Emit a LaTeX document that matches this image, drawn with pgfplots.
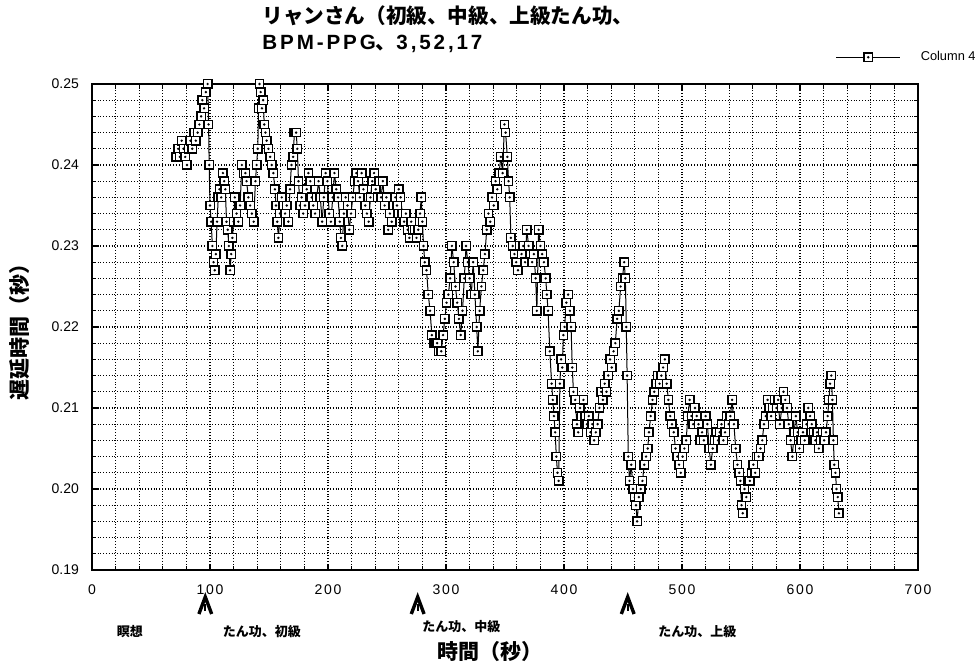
\documentclass[border=0pt]{standalone}
\usepackage{pgfplots}
\pgfplotsset{compat=1.18}
\usepackage{fontspec}
\setmainfont{Liberation Sans}
\newfontfamily\jp{Noto Sans CJK JP}
\newfontfamily\tickfont[LetterSpace=12]{Liberation Sans}
\newfontfamily\titlelat[LetterSpace=14]{Liberation Sans}
\pgfdeclareplotmark{sqdot}{%
  \pgfpathrectangle{\pgfpoint{-\pgfplotmarksize}{-\pgfplotmarksize}}{\pgfpoint{2\pgfplotmarksize}{2\pgfplotmarksize}}%
  \pgfusepathqfillstroke
  \begin{pgfscope}%
  \pgfsetfillcolor{black}%
  \pgfpathcircle{\pgfpointorigin}{0.32\pgfplotmarksize}%
  \pgfusepathqfill
  \end{pgfscope}%
}
\tikzset{phasearrow/.style={line width=1.7pt, line join=miter, line cap=butt}}
\begin{document}
\begin{tikzpicture}
\path[use as bounding box] (-46pt,-51pt) rectangle (444pt,285pt);
\begin{axis}[
  at={(0,0)}, anchor=south west,
  scale only axis, width=413pt, height=243pt,
  xmin=0, xmax=700, ymin=0.19, ymax=0.25,
  xtick={0,100,...,700}, minor x tick num=4,
  ytick={0.19,0.2,0.21,0.22,0.23,0.24,0.25}, minor y tick num=4,
  grid=both,
  major grid style={densely dotted, black, line width=0.6pt},
  minor grid style={densely dotted, black, line width=0.6pt},
  tick style={black, line width=0.6pt},
  major tick length=3pt, minor tick length=2pt,
  axis line style={line width=1pt},
  /pgf/number format/assume math mode=true,
  yticklabel style={/pgf/number format/fixed, /pgf/number format/fixed zerofill, /pgf/number format/precision=2, font=\fontsize{7}{8}\selectfont, xshift=-3pt},
  xticklabel style={font=\tickfont\fontsize{7}{8}\selectfont, yshift=-4pt},
  xlabel={\jp\bfseries 時間（秒）},
  ylabel={\jp\bfseries 遅延時間（秒）},
  xlabel style={font=\fontsize{10.5}{11}\selectfont, at={(axis description cs:0.482,0)}, anchor=center, yshift=-41pt},
  ylabel style={font=\fontsize{10.5}{11}\selectfont, at={(axis description cs:0,0.5)}, anchor=center, yshift=36pt},
  clip=false,
  legend style={at={(axis description cs:0.9,1.055)}, anchor=west, draw=none, fill=none, inner sep=0pt, font=\fontsize{6.4}{7}\selectfont, /tikz/every odd column/.append style={column sep=8pt}},
  legend image code/.code={\draw[#1, mark repeat=2, mark phase=2] plot coordinates {(0pt,0pt) (16pt,0pt) (32pt,0pt)};},
]
\addplot[black, line width=0.5pt, mark=sqdot, mark size=2.1pt, mark options={fill=white, line width=0.7pt}] coordinates {
(71.5,0.241)(73,0.242)(74.5,0.241)(76,0.243)(77.5,0.242)(79,0.241)(80.5,0.240)(82,0.242)(83.5,0.243)(85,0.242)(86.5,0.244)(88,0.243)(89.5,0.244)(91,0.245)(92.5,0.246)(93.5,0.248)(95,0.247)(96.5,0.249)(98,0.250)(98.8,0.245)(99.3,0.240)
(100,0.235)(101,0.233)(102,0.230)(103,0.228)(104,0.227)(105,0.229)(106,0.233)(107,0.236)(108,0.237)(109.5,0.236)(111,0.239)(112,0.238)(113,0.237)(114,0.233)(115,0.232)(116,0.230)(117,0.227)(118,0.229)(119,0.231)(120,0.233)(121,0.236)(122.5,0.234)(124,0.233)(125.5,0.235)(127,0.240)(128.5,0.239)(130,0.239)(131,0.238)(132.5,0.236)(134,0.235)(135.5,0.234)(137,0.233)(138.5,0.238)(139.5,0.240)(140.5,0.242)(141.2,0.247)(142,0.250)
(143,0.249)(144,0.247)(145,0.248)(146,0.245)(147,0.244)(148,0.243)(149.5,0.242)(151,0.241)(152.3,0.240)(153.7,0.239)(155,0.237)(156,0.235)(157,0.233)(158,0.231)(159.3,0.234)(160.8,0.236)(162,0.235)(163.6,0.234)(165,0.235)(166.4,0.233)(167.8,0.237)(169,0.240)(170.5,0.241)(171.5,0.244)(173,0.244)(174,0.242)(175,0.238)(176.3,0.235)(177.7,0.236)(179,0.234)(180.5,0.235)(182,0.237)(183.4,0.239)(185,0.238)(186.2,0.236)(187.5,0.235)(189,0.234)
(190.5,0.236)(192,0.238)(193.5,0.236)(195,0.233)(196.5,0.236)(198,0.239)(199.5,0.238)(201,0.234)(202.5,0.233)(204,0.236)(205.5,0.239)(207,0.237)(208.5,0.236)(210,0.233)(211,0.231)(212,0.230)(213.5,0.234)(215,0.236)(216.5,0.235)(218,0.232)(219.5,0.234)(221,0.236)(222.5,0.238)(224,0.239)(225.5,0.238)(227,0.236)(228.5,0.239)(230,0.237)(231.5,0.235)(233,0.234)(234.5,0.233)(236,0.236)(237.5,0.238)(239,0.239)(240.5,0.237)(242,0.236)(243.5,0.238)(245,0.236)(246.5,0.238)(248,0.235)(249.5,0.236)(251,0.232)(252.5,0.234)(254,0.233)(255.5,0.235)(257,0.236)(258.5,0.235)(260,0.237)(261.5,0.236)(263,0.234)(264.5,0.233)(266,0.234)(267.5,0.232)(269,0.231)(270.5,0.233)(272,0.232)(273.5,0.232)(275,0.231)(276.5,0.232)(278,0.234)(279,0.236)(280,0.233)(281,0.230)(282,0.228)(283.5,0.227)
(285,0.224)(286.5,0.222)(288,0.219)(289.5,0.218)(291,0.218)(292.5,0.218)(294,0.217)(296,0.217)(297.5,0.219)(299,0.221)(300.5,0.223)(302,0.224)(303.5,0.226)(305,0.230)(306.5,0.228)(308,0.225)(309.5,0.223)(311,0.221)(312.5,0.219)(314,0.222)(315.5,0.226)(317,0.230)(318.5,0.228)(320,0.226)(321.5,0.224)(323,0.228)(324.5,0.224)(326,0.220)(327,0.217)(328.5,0.222)(330,0.225)(331.5,0.227)(333,0.229)(334.5,0.232)(336,0.234)(337.5,0.233)(339,0.236)(340.5,0.235)(342,0.238)(343.5,0.237)(345,0.239)(346.5,0.241)(348,0.239)(349.5,0.245)(350.5,0.244)(352,0.241)(353,0.238)(354,0.236)(355,0.231)(356.5,0.230)(358,0.229)(359.5,0.228)(361,0.227)(362.5,0.230)(364,0.229)(365.5,0.230)(367,0.228)(368.5,0.232)(370,0.230)(371.5,0.229)(373,0.228)(374.5,0.229)(376,0.226)(377,0.222)(378.5,0.232)(380,0.230)(381.5,0.229)(383,0.228)(384.5,0.226)(385.5,0.224)(386.5,0.222)(388,0.217)(389.5,0.213)(390.5,0.211)(391.5,0.209)(392.5,0.207)(393.5,0.204)(394.5,0.202)(395.5,0.201)
(396.5,0.213)(397.5,0.216)(398.5,0.215)(399.5,0.219)(400.5,0.220)(402,0.223)(403.5,0.224)(405,0.222)(406,0.220)(407,0.215)(408,0.212)(409.5,0.211)(411,0.208)(412,0.207)(413.5,0.210)(415,0.209)(416.5,0.211)(418,0.209)(419.5,0.208)(421,0.209)(422.5,0.207)(424,0.208)(425.5,0.206)(427,0.207)(428.5,0.208)(430,0.210)(431.5,0.212)(433,0.211)(434.5,0.213)(436,0.212)(437.5,0.214)(439,0.216)(440.5,0.215)(442,0.217)(443.5,0.218)(445,0.221)(446.5,0.222)(448,0.225)(449.5,0.226)(451,0.228)(452,0.226)(452.8,0.220)(453.5,0.214)(454.5,0.204)(455.5,0.201)(457,0.203)(458.5,0.200)(460,0.199)(461,0.198)(462,0.196)(463.5,0.199)(465,0.200)(466.5,0.201)(468,0.203)(469.5,0.204)(471,0.205)(472,0.207)(473.5,0.209)(475,0.211)(476.5,0.212)(478,0.213)(479.5,0.214)(481,0.213)(482.5,0.214)(484,0.215)(485.5,0.216)(487,0.213)(488.5,0.211)(490,0.209)(491.5,0.208)(493,0.207)(494.5,0.205)
(496,0.204)(497.5,0.203)(499,0.202)(500.5,0.204)(502,0.205)(503.5,0.206)(505,0.209)(506.5,0.211)(508,0.209)(509.5,0.208)(511,0.210)(512.5,0.209)(514,0.208)(515.5,0.206)(517,0.207)(518.5,0.206)(520,0.209)(521.5,0.208)(523,0.205)(524.5,0.203)(526,0.205)(527.5,0.206)(529,0.207)(530.5,0.206)(532,0.207)(533.5,0.208)(535,0.206)(536.5,0.207)(538,0.209)(539.5,0.208)(541,0.209)(542.5,0.211)(544,0.208)(545.5,0.205)(547,0.203)(548.5,0.202)(549.5,0.201)(550.5,0.198)(551.5,0.197)(553,0.200)(554.5,0.199)(556,0.201)(557.5,0.201)(559,0.202)(560.5,0.203)(562,0.202)(563.5,0.204)(565,0.204)(566.5,0.205)(568,0.206)(569.5,0.208)(571,0.209)(572.5,0.211)(574,0.210)(575.5,0.209)(577,0.210)(578.5,0.211)(580,0.210)(581.5,0.211)(583,0.208)(584.5,0.210)(586,0.212)(587.5,0.211)(589,0.210)(590.5,0.208)(592,0.206)(593.5,0.204)(595,0.207)(596.5,0.209)(598,0.207)(599.5,0.205)(601,0.206)(602.5,0.207)(604,0.206)(605.5,0.208)(607,0.210)(608.5,0.209)(610,0.208)(611.5,0.207)(613,0.206)(614.5,0.207)(616,0.205)(617.5,0.206)(619,0.207)(620.5,0.206)(622,0.207)(623.5,0.209)(624.5,0.211)(625.5,0.213)(626.5,0.214)(627.5,0.211)(628.3,0.206)(629,0.203)(630,0.202)(631,0.200)(632,0.199)(633,0.197)
};
\addlegendentry{Column 4}
\draw[phasearrow] ([xshift=-3.2pt,yshift=-22pt]axis cs:96,0.19) -- ([yshift=-13.5pt]axis cs:96,0.19) -- ([xshift=3.2pt,yshift=-22pt]axis cs:96,0.19);
\draw[line width=1.1pt] ([yshift=-17pt]axis cs:96,0.19) -- ([yshift=-20.5pt]axis cs:96,0.19);
\draw[phasearrow] ([xshift=-3.2pt,yshift=-22pt]axis cs:276,0.19) -- ([yshift=-13.5pt]axis cs:276,0.19) -- ([xshift=3.2pt,yshift=-22pt]axis cs:276,0.19);
\draw[line width=1.1pt] ([yshift=-17pt]axis cs:276,0.19) -- ([yshift=-20.5pt]axis cs:276,0.19);
\draw[phasearrow] ([xshift=-3.2pt,yshift=-22pt]axis cs:454,0.19) -- ([yshift=-13.5pt]axis cs:454,0.19) -- ([xshift=3.2pt,yshift=-22pt]axis cs:454,0.19);
\draw[line width=1.1pt] ([yshift=-17pt]axis cs:454,0.19) -- ([yshift=-20.5pt]axis cs:454,0.19);
\node[font=\jp\bfseries\fontsize{6.5}{7}\selectfont] at (axis cs:32,0.19) [yshift=-31pt] {瞑想};
\node[font=\jp\bfseries\fontsize{6.5}{7}\selectfont] at (axis cs:144,0.19) [yshift=-31pt] {たん功、初級};
\node[font=\jp\bfseries\fontsize{6.5}{7}\selectfont] at (axis cs:313,0.19) [yshift=-28.5pt] {たん功、中級};
\node[font=\jp\bfseries\fontsize{6.5}{7}\selectfont] at (axis cs:513,0.19) [yshift=-31pt] {たん功、上級};
\end{axis}
\node[anchor=west, inner sep=0pt, font=\jp\bfseries\fontsize{10.3}{13}\selectfont, align=left] at (85pt,270.5pt) {リャンさん（初級、中級、上級たん功、\\{\titlelat\bfseries BPM-PPG}、{\titlelat\bfseries 3,52,17}};
\end{tikzpicture}
\end{document}
